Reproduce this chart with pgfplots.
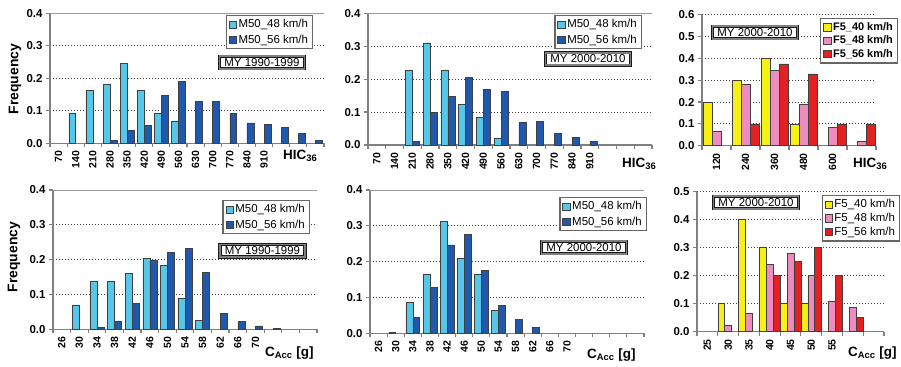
\documentclass[border=0pt]{standalone}
\usepackage{fontspec}
\setmainfont{Liberation Sans}
\setsansfont{Liberation Sans}
\usepackage{pgfplots}
\pgfplotsset{compat=1.18}

\definecolor{lb}{RGB}{86,199,232}
\definecolor{db}{RGB}{31,88,172}
\definecolor{yl}{RGB}{246,240,20}
\definecolor{pk}{RGB}{238,140,192}
\definecolor{rd}{RGB}{228,32,32}
\definecolor{axgray}{RGB}{128,128,128}

\tikzset{mybox/.style={draw=black!90, line width=0.8bp, double=black!50, double distance=1.6bp,
  fill=white, inner xsep=5bp, inner ysep=2.2bp, font=\fontsize{11.5}{13}\selectfont}}

\pgfplotsset{
  sqleg/.style={legend image code/.code={\draw[##1,line width=0.6bp] (0bp,-3.6bp) rectangle (7.2bp,3.6bp);}},
  s48/.style={fill=lb, draw=black!75, line width=0.5bp, sqleg},
  s56/.style={fill=db, draw=black!75, line width=0.5bp, sqleg},
  sY/.style={fill=yl, draw=black!75, line width=0.5bp, sqleg},
  sP/.style={fill=pk, draw=black!75, line width=0.5bp, sqleg},
  sR/.style={fill=rd, draw=black!75, line width=0.5bp, sqleg},
  panel/.style={
    scale only axis, anchor=south west, clip=false,
    ybar=0pt, ymin=0, xmin=-0.5,
    axis x line*=bottom, axis y line*=left,
    axis line style={axgray, line width=1.5bp},
    tick style={axgray, line width=1.2bp},
    tick align=outside,
    major tick length=4bp, minor tick length=4bp,
    major x tick style={draw=none},
    ymajorgrids,
    grid style={black!75, line width=0.8bp, dash pattern=on 1.3bp off 1.7bp},
    /pgf/number format/assume math mode=true,
    yticklabel style={font=\fontsize{11.5}{13}\selectfont\bfseries,
      /pgf/number format/fixed, /pgf/number format/fixed zerofill, /pgf/number format/precision=1},
    xticklabel style={font=\fontsize{10.5}{12}\selectfont\bfseries, rotate=90, anchor=east},
    legend style={draw=black!60, line width=1.2bp, fill=white, anchor=north east,
      font=\fontsize{11.5}{13}\selectfont, inner xsep=2.5bp, inner ysep=2bp, row sep=1.5bp,
      cells={anchor=west}},
  },
}

\begin{document}
\begin{tikzpicture}
\useasboundingbox (0,0) rectangle (901bp,367bp);

% ---------- Panel 1: M50, MY 1990-1999, HIC36 ----------
\begin{axis}[panel, at={(50bp,223.7bp)}, width=274bp, height=130bp,
  xmax=15.5, ymax=0.4, bar width=0.4,
  ytick={0,0.1,0.2,0.3,0.4},
  xtick={0,...,12}, xticklabels={70,140,210,280,350,420,490,560,630,700,770,840,910},
  minor xtick={-0.5,0.5,...,15.5},
  legend style={at={(0.96,0.987)}}]
\addplot[s48] coordinates {(1,0.091)(2,0.162)(3,0.181)(4,0.247)(5,0.162)(6,0.091)(7,0.068)};
\addplot[s56] coordinates {(3,0.01)(4,0.04)(5,0.055)(6,0.147)(7,0.19)(8,0.128)(9,0.128)(10,0.091)(11,0.063)(12,0.059)(13,0.05)(14,0.03)(15,0.01)};
\legend{M50\_48 km/h, M50\_56 km/h}
\draw[axgray!80, line width=1bp] (rel axis cs:0,1) -- (rel axis cs:1,1);
\end{axis}

% ---------- Panel 2: M50, MY 2000-2010, HIC36 ----------
\begin{axis}[panel, at={(368bp,222bp)}, width=284bp, height=131.7bp,
  xmax=15.5, ymax=0.4, bar width=0.4,
  ytick={0,0.1,0.2,0.3,0.4},
  xtick={0,...,12}, xticklabels={70,140,210,280,350,420,490,560,630,700,770,840,910},
  minor xtick={-0.5,0.5,...,15.5},
  legend style={at={(0.964,0.987)}}]
\addplot[s48] coordinates {(2,0.228)(3,0.31)(4,0.228)(5,0.123)(6,0.083)(7,0.022)};
\addplot[s56] coordinates {(2,0.012)(3,0.1)(4,0.148)(5,0.205)(6,0.168)(7,0.163)(8,0.068)(9,0.071)(10,0.036)(11,0.024)(12,0.012)};
\legend{M50\_48 km/h, M50\_56 km/h}
\draw[axgray!80, line width=1bp] (rel axis cs:0,1) -- (rel axis cs:1,1);
\end{axis}

% ---------- Panel 3: F5, MY 2000-2010, HIC36 ----------
\begin{axis}[panel, at={(702bp,221.3bp)}, width=174bp, height=130.8bp,
  xmax=5.5, ymax=0.6, bar width=0.31,
  ytick={0,0.1,0.2,0.3,0.4,0.5,0.6},
  xtick={0,...,4}, xticklabels={120,240,360,480,600},
  minor xtick={-0.5,0.5,...,5.5},
  legend style={at={(1.126,0.976)}, font=\fontsize{11}{12.5}\selectfont\bfseries, row sep=0bp}]
\addplot[sY] coordinates {(0,0.2)(1,0.3)(2,0.4)(3,0.1)};
\addplot[sP] coordinates {(0,0.065)(1,0.28)(2,0.345)(3,0.19)(4,0.085)(5,0.02)};
\addplot[sR] coordinates {(1,0.1)(2,0.375)(3,0.33)(4,0.1)(5,0.1)};
\legend{F5\_40 km/h, F5\_48 km/h, F5\_56 km/h}
\end{axis}

% ---------- Panel 4: M50, MY 1990-1999, CAcc ----------
\begin{axis}[panel, at={(53bp,37.7bp)}, width=264bp, height=139.3bp,
  xmax=14.5, ymax=0.4, bar width=0.4,
  ytick={0,0.1,0.2,0.3,0.4},
  xtick={0,...,11}, xticklabels={26,30,34,38,42,46,50,54,58,62,66,70},
  minor xtick={-0.5,0.5,...,14.5},
  legend style={at={(0.973,0.928)}}]
\addplot[s48] coordinates {(1,0.07)(2,0.137)(3,0.137)(4,0.16)(5,0.205)(6,0.183)(7,0.09)(8,0.025)};
\addplot[s56] coordinates {(2,0.005)(3,0.022)(4,0.075)(5,0.197)(6,0.22)(7,0.233)(8,0.163)(9,0.045)(10,0.022)(11,0.01)(12,0.003)};
\legend{M50\_48 km/h, M50\_56 km/h}
\draw[axgray!80, line width=1bp] (rel axis cs:0,1) -- (rel axis cs:1,1);
\end{axis}

% ---------- Panel 5: M50, MY 2000-2010, CAcc ----------
\begin{axis}[panel, at={(370bp,33.7bp)}, width=274bp, height=143.3bp,
  xmax=15.5, ymax=0.4, bar width=0.4,
  ytick={0,0.1,0.2,0.3,0.4},
  xtick={0,...,11}, xticklabels={26,30,34,38,42,46,50,54,58,62,66,70},
  minor xtick={-0.5,0.5,...,15.5},
  legend style={at={(1.01,0.951)}}]
\addplot[s48] coordinates {(1,0.003)(2,0.087)(3,0.166)(4,0.312)(5,0.209)(6,0.166)(7,0.065)};
\addplot[s56] coordinates {(2,0.045)(3,0.128)(4,0.247)(5,0.277)(6,0.175)(7,0.078)(8,0.039)(9,0.017)};
\legend{M50\_48 km/h, M50\_56 km/h}
\draw[axgray!80, line width=1bp] (rel axis cs:0,1) -- (rel axis cs:1,1);
\end{axis}

% ---------- Panel 6: F5, MY 2000-2010, CAcc ----------
\begin{axis}[panel, at={(697bp,35.3bp)}, width=187bp, height=140bp,
  xmax=8.5, ymax=0.5, bar width=0.33,
  ytick={0,0.1,0.2,0.3,0.4,0.5},
  xtick={0,...,6}, xticklabels={25,30,35,40,45,50,55},
  minor xtick={-0.5,0.5,...,8.5},
  legend style={at={(1.086,0.976)}, row sep=0bp}]
\addplot[sY] coordinates {(1,0.1)(2,0.4)(3,0.3)(4,0.1)(5,0.1)};
\addplot[sP] coordinates {(1,0.022)(2,0.065)(3,0.24)(4,0.28)(5,0.2)(6,0.11)(7,0.087)};
\addplot[sR] coordinates {(3,0.2)(4,0.25)(5,0.3)(6,0.2)(7,0.05)};
\legend{F5\_40 km/h, F5\_48 km/h, F5\_56 km/h}
\end{axis}

% ---------- axis titles ----------
\node[rotate=90, font=\fontsize{14}{16}\selectfont\bfseries] at (15bp,288bp) {Frequency};
\node[rotate=90, font=\fontsize{14}{16}\selectfont\bfseries] at (14bp,110bp) {Frequency};
\node[anchor=west, inner sep=0pt, font=\fontsize{13.5}{15}\selectfont\bfseries] at (283bp,211bp) {HIC\textsubscript{36}};
\node[anchor=west, inner sep=0pt, font=\fontsize{13.5}{15}\selectfont\bfseries] at (622bp,203bp) {HIC\textsubscript{36}};
\node[anchor=west, inner sep=0pt, font=\fontsize{13.5}{15}\selectfont\bfseries] at (853bp,203bp) {HIC\textsubscript{36}};
\node[anchor=west, inner sep=0pt, font=\fontsize{13.5}{15}\selectfont\bfseries] at (265bp,14bp) {C\textsubscript{Acc} [g]};
\node[anchor=west, inner sep=0pt, font=\fontsize{13.5}{15}\selectfont\bfseries] at (587bp,12bp) {C\textsubscript{Acc} [g]};
\node[anchor=west, inner sep=0pt, font=\fontsize{13.5}{15}\selectfont\bfseries] at (848bp,14bp) {C\textsubscript{Acc} [g]};

% ---------- MY boxes ----------
\node[mybox] at (262bp,304.5bp) {MY 1990-1999};
\node[mybox] at (588bp,308bp) {MY 2000-2010};
\node[mybox] at (755bp,334.5bp) {MY 2000-2010};
\node[mybox] at (262.5bp,116.2bp) {MY 1990-1999};
\node[mybox] at (584bp,119.5bp) {MY 2000-2010};
\node[mybox] at (756bp,164.5bp) {MY 2000-2010};
\end{tikzpicture}
\end{document}
